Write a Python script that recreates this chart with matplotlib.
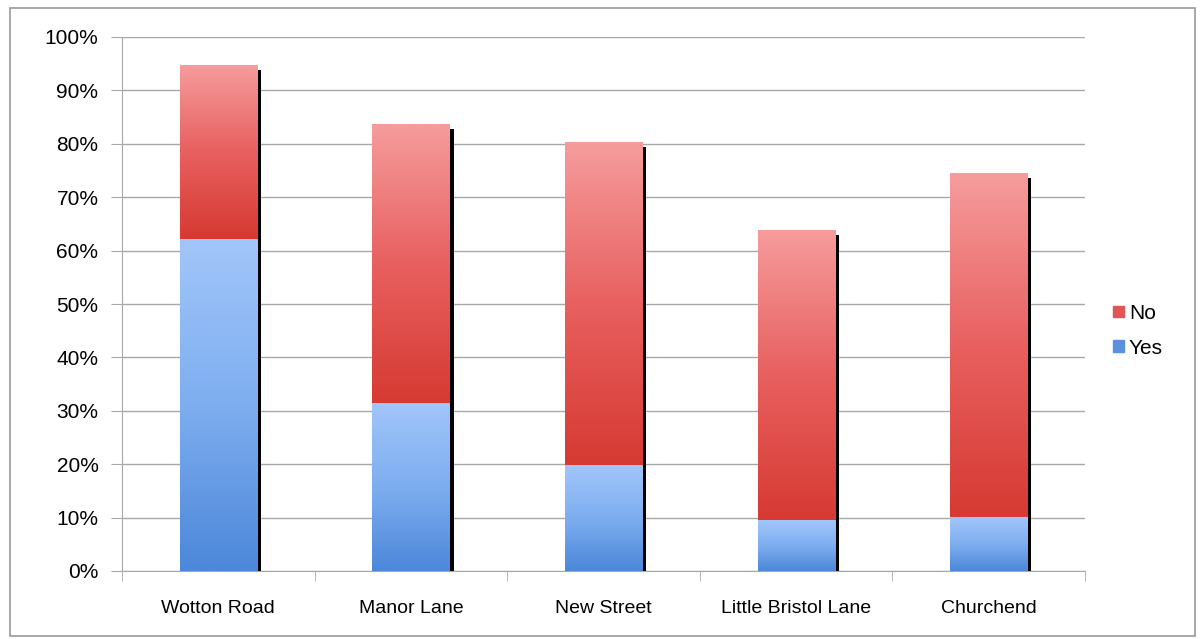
import matplotlib.pyplot as plt
import numpy as np
from matplotlib.colors import LinearSegmentedColormap
from matplotlib.patches import Rectangle

plt.rcParams['font.family'] = ['Liberation Sans', 'DejaVu Sans']

categories = ["Wotton Road", "Manor Lane", "New Street", "Little Bristol Lane", "Churchend"]
yes = [62.2, 31.5, 19.9, 9.5, 10.1]
no = [32.6, 52.2, 60.4, 54.4, 64.4]

fig = plt.figure(figsize=(12.03, 6.39), dpi=100)
fig.patches.append(Rectangle((0.008, 0.005), 0.985, 0.983, transform=fig.transFigure,
                             fill=False, edgecolor="#9a9a9a", linewidth=1.2))
ax = fig.add_axes([122 / 1203, 1 - 571 / 639, (1085 - 122) / 1203, (571 - 37) / 639])

x = np.arange(len(categories))
width = 0.4
totals = np.array(yes) + np.array(no)

# black shadow on right side
ax.bar(x + 0.022, totals - 0.9, width, color="black", zorder=2)

red_cmap = LinearSegmentedColormap.from_list("red", ["#d63a32", "#e86060", "#f69c9c"])
blue_cmap = LinearSegmentedColormap.from_list("blue", ["#4c87d9", "#7eaef0", "#a2c6fa"])

yes_bars = ax.bar(x, yes, width, color="#7aa8ec", zorder=3, label="Yes")
no_bars = ax.bar(x, no, width, bottom=yes, color="#e86565", zorder=3, label="No")

grad = np.linspace(0, 1, 256).reshape(-1, 1)
for bars, cmap in [(yes_bars, blue_cmap), (no_bars, red_cmap)]:
    for b in bars:
        bx, by = b.get_x(), b.get_y()
        w, h = b.get_width(), b.get_height()
        im = ax.imshow(grad, cmap=cmap, origin="lower", aspect="auto",
                       extent=[bx, bx + w, by, by + h], zorder=4)
        im.set_clip_path(b)

ax.set_xlim(-0.5, len(categories) - 0.5)
ax.set_ylim(0, 100)
ax.set_yticks(np.arange(0, 101, 10))
ax.set_yticklabels([f"{v}%" for v in range(0, 101, 10)], fontsize=15)
ax.yaxis.grid(True, color="#a8a8a8", linewidth=1)
ax.set_axisbelow(True)

ax.set_xticks(x)
ax.set_xticklabels(categories, fontsize=14)
ax.set_xticks(np.arange(-0.5, len(categories), 1), minor=True)
ax.tick_params(axis="x", which="major", length=0, pad=21)
ax.tick_params(axis="x", which="minor", length=7, color="#a8a8a8")
ax.tick_params(axis="y", length=8, color="#a8a8a8", pad=9)

for s in ["top", "right"]:
    ax.spines[s].set_visible(False)
ax.spines["left"].set_color("#a8a8a8")
ax.spines["bottom"].set_color("#a8a8a8")

handles = [Rectangle((0, 0), 1, 1, color="#e05555"), Rectangle((0, 0), 1, 1, color="#5b90de")]
ax.legend(handles, ["No", "Yes"], loc="center left", bbox_to_anchor=(1.01, 0.45),
          frameon=False, fontsize=15, handlelength=0.5, handleheight=0.5,
          handletextpad=0.25, labelspacing=0.75)

fig.savefig("out.png", dpi=100)
